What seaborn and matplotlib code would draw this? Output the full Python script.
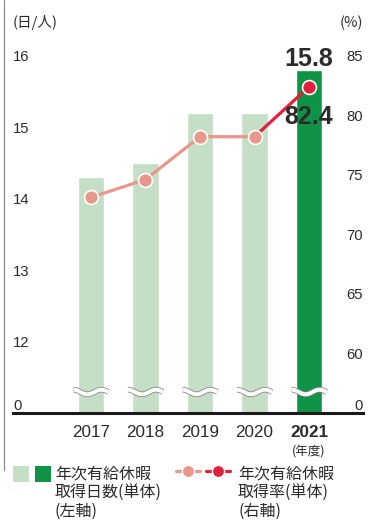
import numpy as np
import matplotlib
matplotlib.use("Agg")
import matplotlib.pyplot as plt
import matplotlib.transforms as mtransforms
import matplotlib.patheffects as pe
from matplotlib.lines import Line2D
from matplotlib.patches import Rectangle
import seaborn as sns

# ---- data -------------------------------------------------------------
years = ["2017", "2018", "2019", "2020", "2021"]
days_taken = [14.3, 14.5, 15.2, 15.2, 15.8]        # 年次有給休暇取得日数 (日/人)
take_rate = [73.1, 74.6, 78.2, 78.2, 82.4]          # 年次有給休暇取得率 (%)
left_ticks = [0, 12, 13, 14, 15, 16]
right_ticks = [0, 60, 65, 70, 75, 80, 85]
days_legend = ["年次有給休暇", "取得日数(単体)", "(左軸)"]
rate_legend = ["年次有給休暇", "取得率(単体)", "(右軸)"]

# ---- style ------------------------------------------------------------
W, H, DPI = 371, 520, 100
sns.set_theme(style="white")
plt.rcParams["font.family"] = ["Noto Sans CJK JP", "DejaVu Sans"]
NUM_NARROW = ["Liberation Sans Narrow", "Liberation Sans", "DejaVu Sans"]
NUM_FONT = ["Liberation Sans", "DejaVu Sans"]

LIGHT_BAR = "#c5dec6"
DARK_BAR = "#0f9347"
LIGHT_LINE = "#e8978a"
DARK_LINE = "#e0203c"
TEXT = "#2b2b2b"


def broken_scale(brk, gap, unit):
    """Piecewise-linear scale: 0..brk squeezed into `gap`, then `unit` per step."""
    xp = np.array([-1000.0, 0.0, brk, 1000.0])
    fp = np.array([-1000.0 * gap / brk, 0.0, gap, gap + (1000.0 - brk) * unit])
    return (lambda v: np.interp(v, xp, fp)), (lambda y: np.interp(y, fp, xp))


fwd_l, inv_l = broken_scale(12, 71.0, 71.5)
fwd_r, inv_r = broken_scale(60, 59.4, 11.9)

AX_L, AX_R, AX_TOP, AX_BOT = 13, 363, 40, 412.7
AX_H = AX_BOT - AX_TOP

fig = plt.figure(figsize=(W / DPI, H / DPI), dpi=DPI)
fig.patch.set_facecolor("white")
ax = fig.add_axes([AX_L / W, (H - AX_BOT) / H, (AX_R - AX_L) / W, AX_H / H])


def px2pt(p):
    return p * 72.0 / DPI


# ---- bars (left axis) -------------------------------------------------
sns.barplot(x=years, y=days_taken, hue=years,
            palette=[LIGHT_BAR] * 4 + [DARK_BAR], width=0.48,
            saturation=1, legend=False, ax=ax, zorder=1)
ax.set_yscale("function", functions=(fwd_l, inv_l))
ax.set_ylim(0, float(inv_l(AX_H)))
ax.set_xlim(-1.43, 4.99)

# ---- line (right axis) ------------------------------------------------
ax2 = ax.twinx()
ax2.set_yscale("function", functions=(fwd_r, inv_r))
ax2.set_ylim(0, float(inv_r(AX_H)))
idx = np.arange(len(years))
ax2.plot(idx[3:], take_rate[3:], color=DARK_LINE, lw=2.3, zorder=2,
         solid_capstyle="round")
sns.lineplot(x=idx[:4], y=take_rate[:4], ax=ax2, color=LIGHT_LINE, lw=2.3,
             marker="o", markersize=10, markeredgecolor="white",
             markeredgewidth=1.2, zorder=3)
ax2.plot(idx[4:], take_rate[4:], linestyle="none", marker="o", markersize=10,
         color=DARK_LINE, markeredgecolor="white", markeredgewidth=1.2,
         zorder=4)

# ---- axes cosmetics ---------------------------------------------------
for a in (ax, ax2):
    a.grid(False)
    a.set_xlabel("")
    a.set_ylabel("")
    for s in ("left", "right", "top"):
        a.spines[s].set_visible(False)
ax2.spines["bottom"].set_visible(False)
ax.spines["bottom"].set_color("#1a1a1a")
ax.spines["bottom"].set_linewidth(2.2)
ax.set_facecolor("none")

ax.set_xticks(idx)
ax.set_xticklabels(years, fontfamily=NUM_FONT, fontsize=12.3, color=TEXT)
ax.get_xticklabels()[-1].set_fontweight("bold")
ax.tick_params(axis="x", length=0, pad=8.5)

ax.set_yticks(left_ticks)
ax.set_yticklabels([str(t) for t in left_ticks], fontfamily=NUM_NARROW,
                   fontsize=10.7, color=TEXT)
ax.tick_params(axis="y", length=0, pad=0)
for lab in ax.get_yticklabels():
    lab.set_ha("left")

ax2.set_yticks(right_ticks)
ax2.set_yticklabels([str(t) for t in right_ticks], fontfamily=NUM_NARROW,
                    fontsize=10.7, color=TEXT)
ax2.tick_params(axis="y", length=0, pad=0)
for lab in ax2.get_yticklabels():
    lab.set_ha("right")

# the "0" labels sit a little above the base line
lift = mtransforms.ScaledTranslation(0, 8.7 / DPI, fig.dpi_scale_trans)
for a in (ax, ax2):
    t0 = a.yaxis.get_major_ticks()[0]
    t0.label1.set_transform(t0.label1.get_transform() + lift)
    t0.label2.set_transform(t0.label2.get_transform() + lift)

# ---- axis-break marks on each bar -------------------------------------
blend = mtransforms.blended_transform_factory(ax.transData, ax.transAxes)
t = np.linspace(0, 1, 80)
for i in idx:
    xs = i - 0.32 + 0.64 * t
    ys = (20.7 + 2.3 * np.cos(2 * np.pi * 1.25 * t)) / AX_H
    ax.plot(xs, ys, transform=blend, color="white", lw=2.9,
            solid_capstyle="butt", zorder=5, clip_on=False,
            path_effects=[pe.Stroke(linewidth=4.0, foreground="#808080"),
                          pe.Normal()])

# ---- value labels -----------------------------------------------------
ax.annotate(f"{days_taken[-1]:.1f}", xy=(4, days_taken[-1]),
            xytext=(0, px2pt(4)), textcoords="offset points",
            ha="center", va="baseline", fontsize=18, fontweight="bold",
            fontfamily=NUM_NARROW, color=TEXT, zorder=6)
ax2.annotate(f"{take_rate[-1]:.1f}", xy=(4, take_rate[-1]),
             xytext=(0, -px2pt(37)), textcoords="offset points",
             ha="center", va="baseline", fontsize=18, fontweight="bold",
             fontfamily=NUM_NARROW, color=TEXT, zorder=6)
ax.annotate("(年度)", xy=(4, 0), xycoords=("data", "axes fraction"),
            xytext=(0, -px2pt(452 - AX_BOT)), textcoords="offset points",
            ha="center", va="center", fontsize=9, color=TEXT)

# ---- unit captions ----------------------------------------------------
fig.text(AX_L / W, 1 - 22.5 / H, "(日/人)", ha="left", va="center",
         fontsize=10.5, color=TEXT)
fig.text(AX_R / W, 1 - 22.5 / H, "(%)", ha="right", va="center",
         fontsize=10.5, color=TEXT)

# ---- frame line on the left -------------------------------------------
fig.add_artist(Line2D([3.5 / W, 3.5 / W], [1, 1 - 470 / H],
                      transform=fig.transFigure, color="#8c8c8c", lw=0.9))


# ---- legend -----------------------------------------------------------
def fxy(x, y):
    return x / W, 1 - y / H


for x0, col in ((13, LIGHT_BAR), (35, DARK_BAR)):
    fig.add_artist(Rectangle(fxy(x0, 481.5), 15.5 / W, 15.5 / H,
                             transform=fig.transFigure, color=col, lw=0))

for (xa, xb, xm, col) in ((176, 200, 188.3, LIGHT_LINE),
                          (206, 230, 218.3, DARK_LINE)):
    fig.add_artist(Line2D([xa / W, xb / W], [1 - 470.7 / H] * 2,
                          transform=fig.transFigure, color=col, lw=2.3))
    fig.add_artist(Line2D([xm / W], [1 - 470.7 / H], transform=fig.transFigure,
                          linestyle="none", marker="o", markersize=8.8,
                          color=col, markeredgecolor="white",
                          markeredgewidth=1.0))

line_y = [474, 493, 511]
for x0, lines in ((55, days_legend), (238, rate_legend)):
    for y0, s in zip(line_y, lines):
        fig.text(x0 / W, 1 - y0 / H, s, ha="left", va="center",
                 fontsize=11.5, color=TEXT)

fig.savefig("out.png", dpi=DPI, facecolor="white")
